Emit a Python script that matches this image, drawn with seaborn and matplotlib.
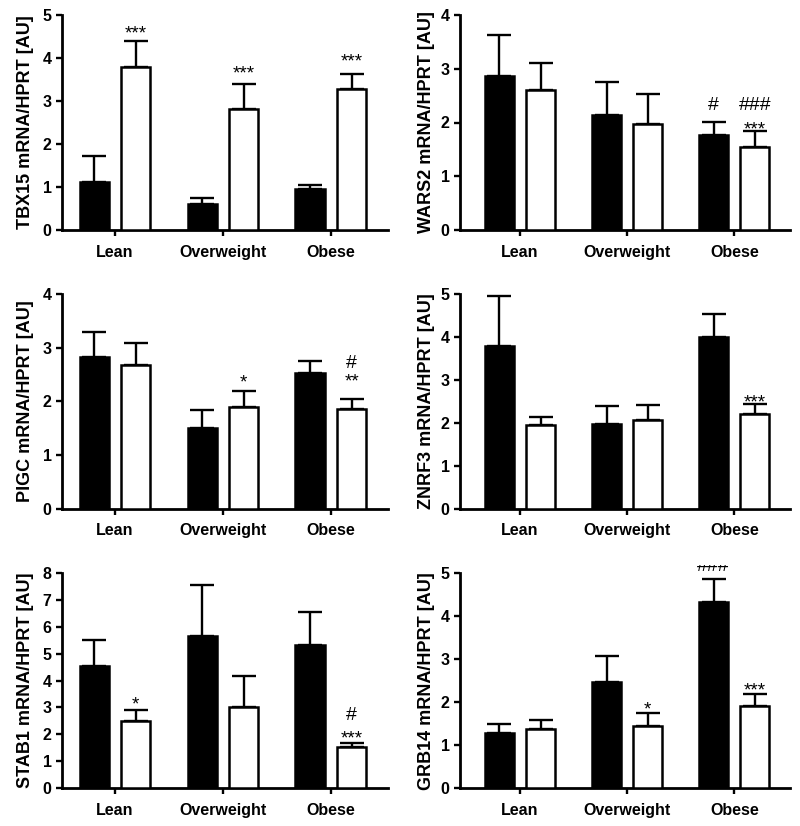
import matplotlib
matplotlib.use("Agg")
import matplotlib.pyplot as plt
import numpy as np
import pandas as pd
import seaborn as sns
from matplotlib.transforms import Bbox, TransformedBbox

# ---------------- data ----------------
groups = ["Lean", "Overweight", "Obese"]
series = ["Group A", "Group B"]

tbx15_a = [1.12, 0.60, 0.95]
tbx15_a_sem = [0.61, 0.15, 0.10]
tbx15_b = [3.80, 2.81, 3.29]
tbx15_b_sem = [0.60, 0.59, 0.34]

wars2_a = [2.87, 2.14, 1.77]
wars2_a_sem = [0.75, 0.61, 0.24]
wars2_b = [2.60, 1.98, 1.55]
wars2_b_sem = [0.51, 0.55, 0.29]

pigc_a = [2.82, 1.50, 2.52]
pigc_a_sem = [0.48, 0.33, 0.24]
pigc_b = [2.67, 1.89, 1.86]
pigc_b_sem = [0.42, 0.31, 0.18]

znrf3_a = [3.79, 1.98, 4.01]
znrf3_a_sem = [1.16, 0.42, 0.52]
znrf3_b = [1.95, 2.07, 2.20]
znrf3_b_sem = [0.18, 0.34, 0.23]

stab1_a = [4.55, 5.67, 5.34]
stab1_a_sem = [0.96, 1.90, 1.23]
stab1_b = [2.48, 3.01, 1.53]
stab1_b_sem = [0.44, 1.18, 0.13]

grb14_a = [1.28, 2.48, 4.34]
grb14_a_sem = [0.20, 0.60, 0.53]
grb14_b = [1.37, 1.45, 1.92]
grb14_b_sem = [0.21, 0.29, 0.26]

genes = ["TBX15", "WARS2", "PIGC", "ZNRF3", "STAB1", "GRB14"]
y_max = [5, 4, 4, 5, 8, 5]

panel_data = {
    "TBX15": (tbx15_a, tbx15_a_sem, tbx15_b, tbx15_b_sem),
    "WARS2": (wars2_a, wars2_a_sem, wars2_b, wars2_b_sem),
    "PIGC": (pigc_a, pigc_a_sem, pigc_b, pigc_b_sem),
    "ZNRF3": (znrf3_a, znrf3_a_sem, znrf3_b, znrf3_b_sem),
    "STAB1": (stab1_a, stab1_a_sem, stab1_b, stab1_b_sem),
    "GRB14": (grb14_a, grb14_a_sem, grb14_b, grb14_b_sem),
}

# significance marks: (group index, series index, text, top of glyph in data units)
marks = {
    "TBX15": [(0, 1, "***", 4.75), (1, 1, "***", 3.82), (2, 1, "***", 4.11)],
    "WARS2": [(2, 0, "#", 2.47), (2, 1, "###", 2.47), (2, 1, "***", 2.02)],
    "PIGC": [(1, 1, "*", 2.51), (2, 1, "#", 2.86), (2, 1, "**", 2.52)],
    "ZNRF3": [(2, 1, "***", 2.67)],
    "STAB1": [(0, 1, "*", 3.40), (2, 1, "#", 3.02), (2, 1, "***", 2.15)],
    "GRB14": [(1, 1, "*", 2.01), (2, 1, "***", 2.45), (2, 0, "###", 5.35)],
}

# ---------------- style ----------------
sns.set_theme(style="ticks")
plt.rcParams["font.family"] = ["Liberation Sans", "DejaVu Sans"]

W, H = 800, 826
fig = plt.figure(figsize=(W / 100, H / 100), dpi=100)

col_x = [(62, 326), (460, 330)]
row_y = [(15, 230), (294, 508.7), (573.3, 788)]
col_xlim = [(-0.49, 2.53), (-0.56, 2.52)]

for i, gene in enumerate(genes):
    r, c = divmod(i, 2)
    x0, w = col_x[c]
    ytop, ybot = row_y[r]
    ax = fig.add_axes([x0 / W, (H - ybot) / H, w / W, (ybot - ytop) / H])

    a, a_sem, b, b_sem = panel_data[gene]
    df = pd.DataFrame({
        "group": groups * 2,
        "series": [series[0]] * 3 + [series[1]] * 3,
        "value": a + b,
    })
    sns.barplot(data=df, x="group", y="value", hue="series", order=groups,
                hue_order=series, palette=["black", "white"], edgecolor="black",
                linewidth=1.8, width=0.77, gap=0.3, errorbar=None, legend=False,
                ax=ax, zorder=3)

    bar_conts = list(ax.containers)
    sems = [a_sem, b_sem]
    centers = {}
    for s_idx, cont in enumerate(bar_conts):
        xs, ys = [], []
        for g_idx, bar in enumerate(cont.patches):
            xc = bar.get_x() + bar.get_width() / 2
            yc = bar.get_height()
            centers[(g_idx, s_idx)] = xc
            xs.append(xc)
            ys.append(yc)
        ax.errorbar(xs, ys, yerr=[np.zeros(len(xs)), sems[s_idx]], fmt="none",
                    ecolor="black", elinewidth=1.7, capsize=8.5, capthick=1.7,
                    zorder=2)

    for g_idx, s_idx, txt, ytop_val in marks[gene]:
        fs = 14 if "#" in txt else 13.5
        t = ax.text(centers[(g_idx, s_idx)], ytop_val, txt, ha="center", va="top",
                    fontsize=fs, color="black", zorder=5)
        if gene == "GRB14" and txt == "###":
            clip = TransformedBbox(Bbox([[0, 0], [1, (H - 565) / H]]), fig.transFigure)
            t.set_clip_box(clip)
            t.set_clip_on(True)

    ax.set_ylim(0, y_max[i])
    ax.set_yticks(range(0, y_max[i] + 1))
    ax.set_xlim(*col_xlim[c])
    ax.set_xlabel("")
    ax.set_ylabel(f"{gene} mRNA/HPRT [AU]", fontsize=13, fontweight="bold",
                  color="black")
    ax.yaxis.set_label_coords(-0.086 if c == 0 else -0.076, 0.5)
    for lbl in ax.get_xticklabels() + ax.get_yticklabels():
        lbl.set_fontweight("bold")
        lbl.set_fontsize(11.5)
        lbl.set_color("black")
    ax.tick_params(axis="both", length=4.5, width=1.7, color="black", pad=3)
    ax.tick_params(axis="x", pad=6)
    for side in ["top", "right"]:
        ax.spines[side].set_visible(False)
    for side in ["left", "bottom"]:
        ax.spines[side].set_linewidth(2.0)
        ax.spines[side].set_color("black")
    ax.set_facecolor("white")

fig.savefig("out.png", dpi=100, facecolor="white")
